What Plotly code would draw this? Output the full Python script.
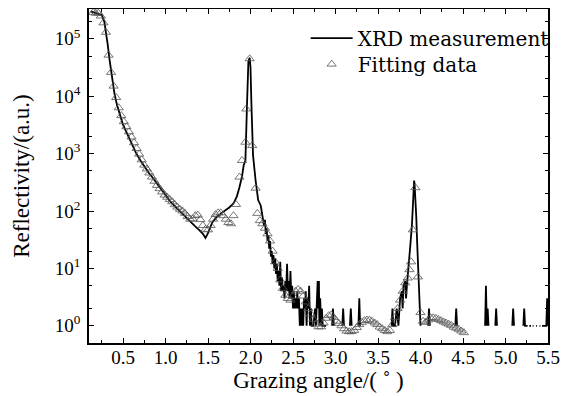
import plotly.graph_objects as go

# ---------------- data ----------------
# XRD measurement (None = zero counts -> gap on log axis)
meas_x = [0.12, 0.15, 0.20, 0.25, 0.28, 0.30, 0.32, 0.34, 0.36, 0.38, 0.40, 0.43, 0.46, 0.50,
          0.55, 0.60, 0.65, 0.70, 0.75, 0.80, 0.85, 0.90, 0.95, 1.00, 1.05, 1.10, 1.15, 1.20,
          1.25, 1.30, 1.35, 1.40, 1.44, 1.47, 1.50, 1.55, 1.60, 1.65, 1.70, 1.75, 1.80, 1.84,
          1.87, 1.90, 1.92, 1.94, 1.96, 1.975, 1.99, 2.00, 2.01, 2.02, 2.03, 2.06, 2.09, 2.12,
          2.14, 2.16, 2.17, 2.18, 2.19, 2.20, 2.21, 2.22, 2.23, 2.24, 2.25, 2.26, 2.27, 2.28,
          2.29, 2.30, 2.31, 2.32, 2.33, 2.34, 2.35, 2.36, 2.37, 2.38, 2.39, 2.40, 2.41, 2.42,
          2.43, 2.44, 2.45, 2.46, 2.47, 2.48, 2.49, 2.50, 2.51, 2.52, 2.53, 2.54, 2.55, 2.56,
          2.57, 2.58, 2.59, 2.60, 2.61, 2.62, 2.63, 2.64, 2.65, 2.66, 2.67, 2.68, 2.69, 2.70,
          2.71, 2.72, 2.74, 2.76, 2.77, 2.78, 2.79, 2.80, 2.805, 2.81, 2.82, 2.83, 2.84, 2.85,
          2.87, 2.89, 2.90,
          2.96, 2.97, 2.98, 2.99,
          3.08, 3.09, 3.10, 3.11,
          3.17, 3.18, 3.19, 3.20,
          3.27, 3.28, 3.29, 3.30,
          3.66, 3.67, 3.68, 3.70, 3.72, 3.74, 3.76, 3.78, 3.79, 3.80, 3.82, 3.83, 3.84, 3.86,
          3.88, 3.90, 3.91, 3.92, 3.925, 3.93, 3.94, 3.95, 3.96, 3.97, 3.98, 3.99, 4.00, 4.01,
          4.09, 4.10, 4.11, 4.12,
          4.41, 4.42, 4.43, 4.44,
          4.76, 4.77, 4.78, 4.79, 4.80, 4.81,
          4.88, 4.89, 4.90, 4.91,
          5.08, 5.09, 5.10, 5.11,
          5.21, 5.22, 5.23, 5.25, 5.26, 5.27, 5.28, 5.30, 5.31, 5.32, 5.33, 5.35, 5.36, 5.37,
          5.38, 5.40, 5.41, 5.42, 5.43, 5.45,
          5.48, 5.49, 5.50]
meas_y = [3.0e5, 2.9e5, 2.8e5, 2.6e5, 2.0e5, 1.3e5, 8.0e4, 4.5e4, 2.6e4, 1.6e4, 1.1e4, 7000, 4800, 3200,
          2200, 1500, 1050, 780, 600, 470, 380, 300, 230, 185, 150, 125, 105, 88,
          75, 63, 54, 46, 40, 34, 41, 63, 78, 90, 100, 115, 135, 180,
          260, 400, 630, 760, 8000, 40000, 47000, 32000, 8000, 1600, 930, 340, 155, 125,
          75, 55, 70, 40, 50, 30, 38, 22, 30, 16, 20, 12, 17, 10,
          15, 8, 12, 6, 9, 5, 13, 4, 7, 4, 5, 3, 6, 4,
          12, 4, 6, 3, 9, 3, 5, 2, 4, 2, 3, 2, 4, 2,
          3, 1, 2, 1, 2, 1, 3, 2, 4, 1, 3, 2, 5, 1,
          2, 1, 1, 2, 1, 3, 6, 2, 6, 1, 3, 1, 2, 1,
          1, 1, None,
          1, 2, 1, None,
          1, 2, 1, None,
          1, 2, 1, None,
          1, 3, 1, None,
          1, 2, 1, 1, 2, 1, 3, 4, 2, 5, 6, 3, 5, 10,
          25, 60, 130, 260, 340, 300, 170, 80, 30, 12, 5, 2, 1, None,
          1, 2, 1, None,
          1, 2, 1, None,
          1, 5, 1, 2, 1, None,
          1, 2, 1, None,
          1, 2, 1, None,
          1, 2, 1, 1, 1, None, 1, 1, None, 1, 1, None, 1, 1,
          None, 1, 1, None, 1, 1,
          1, 3, 1]

# Fitting data (triangles)
fit_x = [0.15, 0.18, 0.21, 0.24, 0.27, 0.30, 0.33, 0.36, 0.39, 0.42, 0.45, 0.48, 0.51, 0.54,
         0.57, 0.60, 0.63, 0.66, 0.69, 0.72, 0.75, 0.78, 0.81, 0.84, 0.87, 0.90, 0.93, 0.96,
         0.99, 1.02, 1.05, 1.08, 1.11, 1.14, 1.17, 1.20, 1.23, 1.26, 1.29, 1.32, 1.35, 1.38,
         1.41, 1.44, 1.47, 1.50, 1.53, 1.56, 1.59, 1.62, 1.65, 1.68, 1.71, 1.74, 1.77, 1.80,
         1.83, 1.87, 1.90, 1.94, 1.95, 1.99, 2.02, 2.06, 2.08, 2.11, 2.14, 2.17, 2.20, 2.23,
         2.26, 2.29, 2.32, 2.35, 2.38, 2.41, 2.44, 2.47, 2.50, 2.53, 2.56, 2.59, 2.62, 2.65,
         2.68, 2.71, 2.74, 2.77, 2.80, 2.83, 2.86, 2.89, 2.92, 2.95, 2.98, 3.01, 3.04, 3.07,
         3.10, 3.13, 3.16, 3.19, 3.22, 3.25, 3.28, 3.31, 3.34, 3.37, 3.40, 3.43, 3.46, 3.49,
         3.52, 3.55, 3.58, 3.61, 3.64, 3.67, 3.70, 3.73, 3.76, 3.79, 3.82, 3.85, 3.87, 3.89,
         3.91, 3.94, 3.97, 4.00, 4.03, 4.06, 4.09, 4.12, 4.15, 4.18, 4.21, 4.24, 4.27, 4.30,
         4.33, 4.36, 4.39, 4.42, 4.45, 4.48, 4.51]
fit_y = [2.9e5, 2.8e5, 2.8e5, 2.5e5, 1.9e5, 1.3e5, 5.2e4, 2.6e4, 1.5e4, 9500, 6300, 4600, 3600, 2950,
         2400, 1950, 1550, 1230, 980, 780, 630, 540, 460, 390, 330, 280, 245, 215,
         190, 174, 158, 145, 129, 117, 107, 100, 91, 80, 72, 73, 83, 85,
         71, 56, 48, 47, 56, 72, 87, 93, 93, 83, 72, 63, 60, 83,
         130, 390, 760, 1580, 6000, 45000, 1380, 250, 91, 68, 60, 50, 40, 30,
         20, 13, 10, 6.3, 4.5, 3.4, 3.0, 2.8, 3.3, 4.0, 4.3, 4.0, 3.3, 2.6,
         2.0, 1.6, 1.3, 1.07, 0.96, 0.96, 1.12, 1.35, 1.5, 1.55, 1.4, 1.2, 1.1, 1.0,
         0.89, 0.81, 0.79, 0.79, 0.83, 0.93, 1.05, 1.15, 1.23, 1.26, 1.26, 1.2, 1.12, 1.05,
         0.95, 0.89, 0.83, 0.79, 0.83, 1.05, 1.4, 2.0, 2.8, 4.0, 5.6, 6.8, 9.5, 13,
         47, 255, 7.1, 1.7, 1.2, 1.15, 1.26, 1.38, 1.38, 1.35, 1.29, 1.23, 1.17, 1.12,
         1.07, 1.02, 0.95, 0.91, 0.87, 0.81, 0.76]

x_tick_vals = [0.5, 1.0, 1.5, 2.0, 2.5, 3.0, 3.5, 4.0, 4.5, 5.0, 5.5]
x_tick_text = ["0.5", "1.0", "1.5", "2.0", "2.5", "3.0", "3.5", "4.0", "4.5", "5.0", "5.5"]
y_tick_vals = [1, 10, 100, 1000, 10000, 100000]
y_tick_text = ["10<sup>0</sup>", "10<sup>1</sup>", "10<sup>2</sup>",
               "10<sup>3</sup>", "10<sup>4</sup>", "10<sup>5</sup>"]

FONT = "Liberation Serif"
LEG_FONT = "DejaVu Serif"

fig = go.Figure()
fig.add_trace(go.Scatter(
    x=meas_x, y=meas_y, mode="lines", name="XRD measurement",
    line=dict(color="black", width=1.8), connectgaps=False, legend="legend"))
fig.add_trace(go.Scatter(
    x=fit_x, y=fit_y, mode="markers", name="Fitting data",
    marker=dict(symbol="triangle-up-open", size=8, color="#555555",
                line=dict(width=0.8, color="#555555")), legend="legend2"))

axis_common = dict(
    showline=True, linecolor="black", linewidth=1.5, mirror="allticks",
    ticks="inside", ticklen=5, tickwidth=1.2, tickcolor="black",
    showgrid=False, zeroline=False, automargin=False,
    tickfont=dict(family=FONT, size=19, color="black"),
)

fig.update_xaxes(
    range=[0.1, 5.5], tickvals=x_tick_vals, ticktext=x_tick_text,
    ticklabelstandoff=-4,
    minor=dict(ticks="inside", ticklen=3, tickwidth=1, tickcolor="black", dtick=0.25, tick0=0),
    title=dict(text="Grazing angle/( ˚ )", font=dict(family=FONT, size=23, color="black"),
               standoff=0),
    **axis_common)
fig.update_yaxes(
    type="log", range=[-0.3, 5.52], tickvals=y_tick_vals, ticktext=y_tick_text,
    ticklabelstandoff=3,
    minor=dict(ticks="inside", ticklen=3, tickwidth=1, tickcolor="black"),
    title=dict(text="Reflectivity/(a.u.)", font=dict(family=FONT, size=23, color="black"),
               standoff=19),
    **axis_common)

leg_common = dict(xanchor="left", yanchor="middle", bgcolor="rgba(0,0,0,0)", borderwidth=0,
                  font=dict(family=LEG_FONT, size=20, color="black"), itemwidth=42)
# page has an 8px body margin, so the figure is sized/offset to compensate
fig.update_layout(
    width=563, height=388,
    margin=dict(l=81, r=23, t=1, b=53),
    paper_bgcolor="white", plot_bgcolor="white",
    font=dict(family=FONT, color="black"),
    showlegend=True,
    legend=dict(x=0.472, y=0.913, **leg_common),
    legend2=dict(x=0.472, y=0.835, **leg_common),
)

fig.write_html("out.html")
